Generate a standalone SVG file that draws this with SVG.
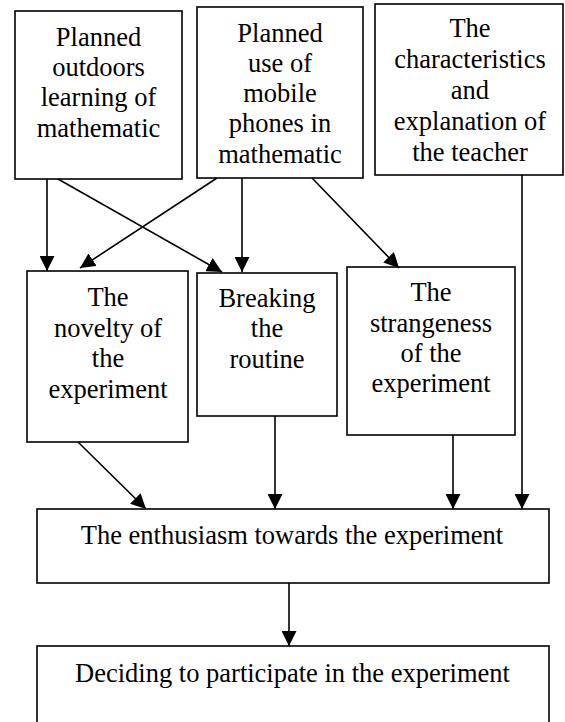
<svg xmlns="http://www.w3.org/2000/svg" width="565" height="722" viewBox="0 0 565 722">
  <style>
    .box { fill: #ffffff; stroke: #000000; stroke-width: 1.6; }
    .label { font-family: 'Liberation Serif', 'Times New Roman', Times, serif; font-size: 26.5px; fill: #000000; text-anchor: middle; }
    .edge { stroke: #000000; stroke-width: 1.6; fill: none; marker-end: url(#arrow); }
  </style>
  <defs>
    <marker id="arrow" markerUnits="userSpaceOnUse" viewBox="0 0 15 15" markerWidth="15" markerHeight="15" refX="15" refY="7.5" orient="auto">
      <path d="M0,0 L15,7.5 L0,15 Z" fill="#000000"/>
    </marker>
  </defs>

  <rect width="565" height="722" fill="#ffffff"/>

  <g id="node-outdoors">
    <rect class="box" x="15" y="11" width="167" height="168"/>
    <text class="label" x="98.5" y="46">Planned</text>
    <text class="label" x="98.5" y="76">outdoors</text>
    <text class="label" x="98.5" y="106">learning of</text>
    <text class="label" x="98.5" y="137">mathematic</text>
  </g>

  <g id="node-phones">
    <rect class="box" x="197" y="7" width="166" height="171"/>
    <text class="label" x="280" y="42">Planned</text>
    <text class="label" x="280" y="72">use of</text>
    <text class="label" x="280" y="102">mobile</text>
    <text class="label" x="280" y="132">phones in</text>
    <text class="label" x="280" y="163">mathematic</text>
  </g>

  <g id="node-teacher">
    <rect class="box" x="375" y="4" width="188" height="171"/>
    <text class="label" x="470" y="37">The</text>
    <text class="label" x="470" y="68">characteristics</text>
    <text class="label" x="470" y="99">and</text>
    <text class="label" x="470" y="130">explanation of</text>
    <text class="label" x="470" y="161">the teacher</text>
  </g>

  <g id="node-novelty">
    <rect class="box" x="27" y="271" width="161" height="171"/>
    <text class="label" x="108" y="306">The</text>
    <text class="label" x="108" y="337">novelty of</text>
    <text class="label" x="108" y="367">the</text>
    <text class="label" x="108" y="398">experiment</text>
  </g>

  <g id="node-routine">
    <rect class="box" x="197" y="273" width="140" height="143"/>
    <text class="label" x="267" y="307">Breaking</text>
    <text class="label" x="267" y="337">the</text>
    <text class="label" x="267" y="368">routine</text>
  </g>

  <g id="node-strangeness">
    <rect class="box" x="347" y="267" width="168" height="168"/>
    <text class="label" x="431" y="301">The</text>
    <text class="label" x="431" y="332">strangeness</text>
    <text class="label" x="431" y="362">of the</text>
    <text class="label" x="431" y="392">experiment</text>
  </g>

  <g id="node-enthusiasm">
    <rect class="box" x="37" y="509" width="512" height="74"/>
    <text class="label" x="292" y="544">The enthusiasm towards the experiment</text>
  </g>

  <g id="node-decision">
    <rect class="box" x="37" y="646" width="512" height="80"/>
    <text class="label" x="292.5" y="682">Deciding to participate in the experiment</text>
  </g>

  <g id="connectors">
    <line class="edge" x1="47" y1="179" x2="47" y2="271"/>
    <line class="edge" x1="58" y1="179" x2="222" y2="272"/>
    <line class="edge" x1="217" y1="178" x2="80" y2="268"/>
    <line class="edge" x1="242" y1="178" x2="242" y2="272"/>
    <line class="edge" x1="312" y1="178" x2="399" y2="268"/>
    <line class="edge" x1="522" y1="175" x2="522" y2="509"/>
    <line class="edge" x1="78" y1="442" x2="146" y2="509"/>
    <line class="edge" x1="275" y1="416" x2="275" y2="509"/>
    <line class="edge" x1="453" y1="435" x2="453" y2="509"/>
    <line class="edge" x1="289" y1="583" x2="289" y2="646"/>
  </g>
</svg>
